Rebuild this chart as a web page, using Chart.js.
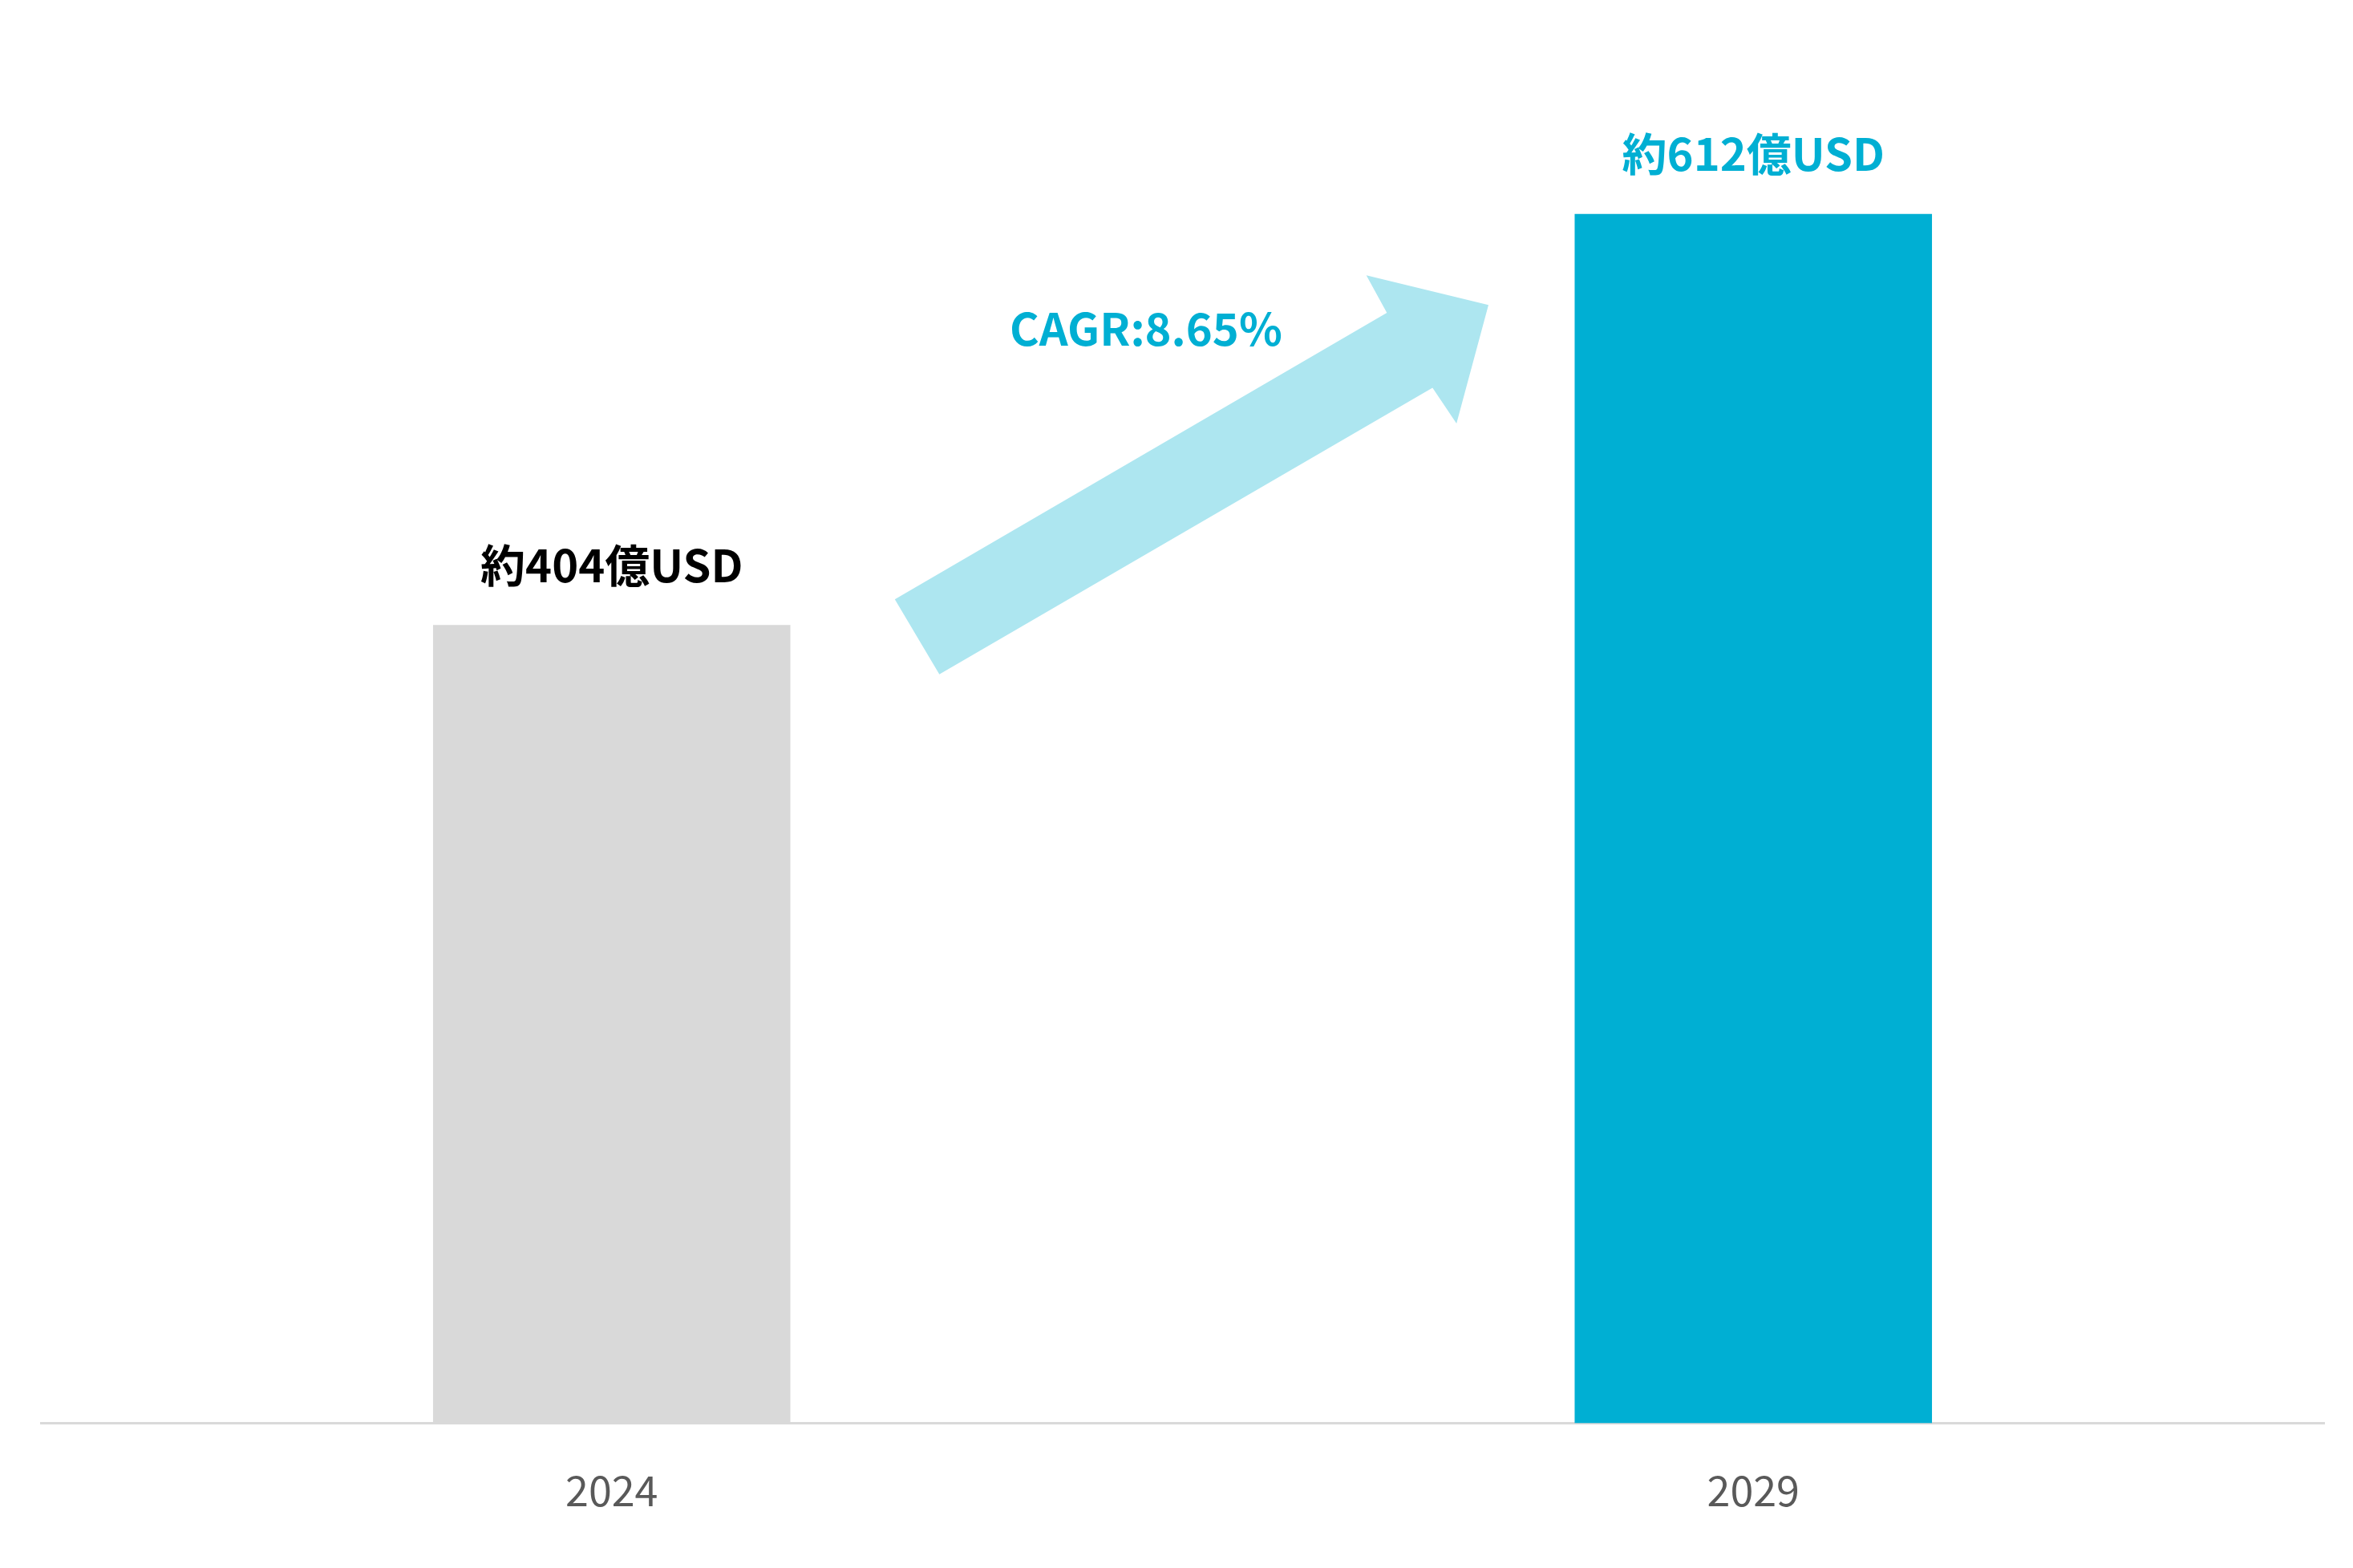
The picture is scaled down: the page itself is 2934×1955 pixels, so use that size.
<!DOCTYPE html>
<html><head><meta charset="utf-8">
<script src="https://cdn.jsdelivr.net/npm/chart.js@4"></script>
<style>html,body{margin:0;background:#fff}#wrap{width:2934px;height:1955px}</style>
</head><body><div id="wrap"><canvas id="c"></canvas></div>
<script>
const years = ['2024', '2029'];
const values = [404, 612];
const valueLabels = ['約404億USD', '約612億USD'];
const barColors = ['#d9d9d9', '#00afd3'];
const labelColors = ['#000000', '#00afd3'];
const cagrText = 'CAGR:8.65%';
// arrow outline: [fraction between the two bars, value]
const arrowShape = [[0.287,379],[0.248,417],[0.679,562],[0.661,581],[0.768,566],[0.740,506],[0.719,524]];
const cagrPos = [0.468, 554];

const FONT = '"Noto Sans CJK JP", "Noto Sans", sans-serif';

const overlay = {
  id: 'overlay',
  afterDatasetsDraw(chart) {
    const ctx = chart.ctx, x = chart.scales.x, y = chart.scales.y;
    const x0 = x.getPixelForValue(0), x1 = x.getPixelForValue(1);
    const px = t => x0 + t * (x1 - x0);
    ctx.save();
    ctx.fillStyle = '#ade6f0';
    ctx.beginPath();
    arrowShape.forEach(([t, v], i) => i ? ctx.lineTo(px(t), y.getPixelForValue(v)) : ctx.moveTo(px(t), y.getPixelForValue(v)));
    ctx.closePath();
    ctx.fill();
    ctx.font = 'bold 56px ' + FONT;
    ctx.textAlign = 'center';
    ctx.textBaseline = 'middle';
    ctx.fillStyle = '#00afd3';
    ctx.fillText(cagrText, px(cagrPos[0]), y.getPixelForValue(cagrPos[1]));
    chart.getDatasetMeta(0).data.forEach((bar, i) => {
      ctx.fillStyle = labelColors[i];
      ctx.fillText(valueLabels[i], bar.x, bar.y - 75);
    });
    ctx.restore();
  }
};

new Chart(document.getElementById('c'), {
  type: 'bar',
  data: { labels: years, datasets: [{ data: values, backgroundColor: barColors, barPercentage: 0.626, categoryPercentage: 0.5 }] },
  options: {
    responsive: true, maintainAspectRatio: false, animation: false,
    layout: { padding: { top: 50, left: 51, right: 36, bottom: 22 } },
    plugins: { legend: { display: false }, tooltip: { enabled: false } },
    scales: {
      x: {
        grid: { display: false },
        border: { color: '#d9d9d9', width: 3 },
        ticks: { color: '#595959', font: { family: FONT, size: 52 }, padding: 44 }
      },
      y: { display: false, min: 0, max: 700 }
    }
  },
  plugins: [overlay]
});
</script></body></html>
